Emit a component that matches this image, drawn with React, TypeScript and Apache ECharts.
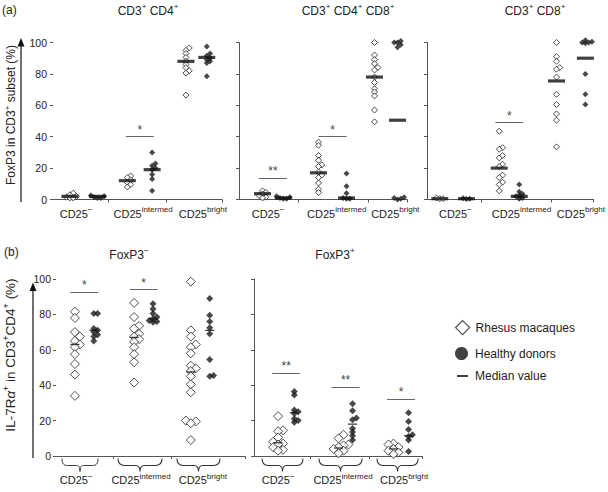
import React, { useEffect, useRef } from "react";
import * as echarts from "echarts";

// ---------- DATA ----------
// (a) FoxP3 in CD3+ subset (%) — groups: CD25−, CD25intermed, CD25bright
const a1Rhesus = [[4, 3, 2, 1.5, 1, 1], [15, 14, 12.5, 11, 9.5, 8], [96.5, 95, 93, 90.5, 88, 86, 84, 82, 80.5, 66.5]];
const a1Healthy = [[2.5, 2, 1.5, 1, 1], [30, 23, 21.5, 20, 19, 16, 13, 5.5], [97.5, 93, 91.5, 90, 89, 88, 87, 78.5]];
const a1RhesusMedian = [2, 12, 88];
const a1HealthyMedian = [2, 19, 90.5];
const a1Signif = [{ group: 1, y: 40, label: "*" }];

const a2Rhesus = [[5.5, 4.5, 3.5, 2.5, 1.5, 1], [36.5, 34.5, 28, 25, 22, 21, 17.5, 15.5, 14, 10.5, 6.5, 4.5], [100, 92, 89, 86.5, 84, 82.5, 78, 74.5, 70.5, 68.5, 66, 57, 49.5]];
const a2Healthy = [[2, 1.5, 1, 0.5, 0.5], [16.5, 8.5, 4, 1, 0.5, 0.5], [101, 100, 100, 98.5, 97, 1.5, 1, 0.5, 0]];
const a2RhesusMedian = [3.7, 17, 78];
const a2HealthyMedian = [1, 1, 50.5];
const a2Signif = [{ group: 0, y: 13.5, label: "**" }, { group: 1, y: 40, label: "*" }];

const a3Rhesus = [[1, 0.5, 0.5], [43.5, 33, 32, 28, 26.5, 22.5, 21, 15.5, 14, 11, 9.5, 5.5], [100, 91, 88, 84, 83, 78, 67, 60.5, 54.5, 50.5, 33.5]];
const a3Healthy = [[0.8, 0.5, 0.3], [9.5, 5, 3.5, 2.5, 2, 1, 0.5], [101.5, 100.5, 100, 100, 99.5, 80, 67, 60.5]];
const a3RhesusMedian = [0.5, 20, 75.5];
const a3HealthyMedian = [0.5, 2, 90];
const a3Signif = [{ group: 1, y: 49, label: "*" }];

// (b) IL-7Rα+ in CD3+CD4+ (%)
const b1Rhesus = [[81.5, 78, 70, 67.5, 65, 63, 61.5, 57.5, 52, 46, 34], [86.5, 78.5, 73.5, 72, 69, 67.5, 66, 64.5, 61.5, 57.5, 53, 41.5], [98.5, 71, 67.5, 63, 61.5, 58, 51, 49.5, 48, 45, 40.5, 36, 20, 19.5, 18.5, 9]];
const b1Healthy = [[80.5, 80.5, 72, 71, 70, 68.5, 67.5, 65], [86, 83, 80.5, 78.5, 77.5, 76.5, 76, 75.5], [89, 79.5, 76, 72.5, 69, 54.5, 45.5, 45]];
const b1RhesusMedian = [63, 67, 47.5];
const b1HealthyMedian = [71, 77.5, 71];
const b1Signif = [{ group: 0, y: 92.5, label: "*" }, { group: 1, y: 94, label: "*" }, { group: 2, y: 105, label: "*" }];

const b2Rhesus = [[22.5, 14.5, 14, 10.5, 8, 7, 6.5, 5, 3.5, 3], [12, 10, 6.5, 6, 5, 4, 3, 1.5], [7, 6.5, 5, 4, 3, 2, 1]];
const b2Healthy = [[36.5, 34.5, 26, 25, 24, 21, 20, 19], [29.5, 25.5, 21.5, 20.5, 15.5, 13.5, 11.5, 9], [24.5, 19.5, 15, 12, 11, 9, 2.5]];
const b2RhesusMedian = [7.5, 4.5, 4];
const b2HealthyMedian = [24.5, 18, 11.5];
const b2Signif = [{ group: 0, y: 47, label: "**" }, { group: 1, y: 39, label: "**" }, { group: 2, y: 32, label: "*" }];

const GROUP_LABELS = ["{n|CD25}{s|−}", "{n|CD25}{s|intermed}", "{n|CD25}{s|bright}"];
const Y_TICKS_MAX = 100;

// ---------- STYLE / LAYOUT ----------
const FONT = "'Liberation Sans', Arial, Helvetica, sans-serif";
const INK = "#222";
const AXIS = "#555";

const BRACE_D = "M0,0 C0,5 2,7 6,7 L16,7 C19,7 20,9 20,13 C20,9 21,7 24,7 L34,7 C38,7 40,5 40,0";
let braceRegistered = false;
function registerBrace() {
  if (braceRegistered) return;
  echarts.graphic.registerShape("brace", echarts.graphic.extendPath(BRACE_D, {}));
  braceRegistered = true;
}

type Panel = {
  title: string; titleX: number; titleY: number;
  grid: { left: number; top: number; width: number; height: number };
  yLabels: boolean; yLine: boolean;
  xPos: number[]; ticks: number[]; labelPos: number[]; labelMargin: number;
  rhesus: number[][]; healthy: number[][]; rMed: number[]; hMed: number[];
  signif: { group: number; y: number; label: string }[];
  kind: "a" | "b";
  braces?: number[][];
};

const PANELS: Panel[] = [
  { title: "{t|CD3}{u|+}{t| CD4}{u|+}", titleX: 148, titleY: 10.5, grid: { left: 53, top: 42.5, width: 169, height: 157 }, yLabels: true, yLine: false,
    xPos: [0.3, 0.79, 1.32, 1.76, 2.36, 2.73], ticks: [0.976, 2.006, 3], labelPos: [0.41, 1.6, 2.66], labelMargin: 6,
    rhesus: a1Rhesus, healthy: a1Healthy, rMed: a1RhesusMedian, hMed: a1HealthyMedian, signif: a1Signif, kind: "a" },
  { title: "{t|CD3}{u|+}{t| CD4}{u|+}{t| CD8}{u|+}", titleX: 348, titleY: 10.5, grid: { left: 239, top: 42.5, width: 168, height: 157 }, yLabels: false, yLine: true,
    xPos: [0.42, 0.79, 1.42, 1.92, 2.42, 2.83], ticks: [1.06, 2.31, 3], labelPos: [0.52, 1.745, 2.79], labelMargin: 6,
    rhesus: a2Rhesus, healthy: a2Healthy, rMed: a2RhesusMedian, hMed: a2HealthyMedian, signif: a2Signif, kind: "a" },
  { title: "{t|CD3}{u|+}{t| CD8}{u|+}", titleX: 535, titleY: 10.5, grid: { left: 427, top: 42.5, width: 168, height: 157 }, yLabels: false, yLine: true,
    xPos: [0.23, 0.71, 1.3, 1.66, 2.33, 2.85], ticks: [0.977, 2.237, 3], labelPos: [0.51, 1.7, 2.77], labelMargin: 6,
    rhesus: a3Rhesus, healthy: a3Healthy, rMed: a3RhesusMedian, hMed: a3HealthyMedian, signif: a3Signif, kind: "a" },
  { title: "{t|FoxP3}{u|−}", titleX: 129, titleY: 255, grid: { left: 56, top: 279, width: 189, height: 177 }, yLabels: true, yLine: false,
    xPos: [0.3, 0.6, 1.24, 1.54, 2.14, 2.44], ticks: [0.905, 1.825, 3], labelPos: [0.32, 1.35, 2.33], labelMargin: 16,
    rhesus: b1Rhesus, healthy: b1Healthy, rMed: b1RhesusMedian, hMed: b1HealthyMedian, signif: b1Signif, kind: "b",
    braces: [[0.095, 0.667], [0.984, 1.683], [1.92, 2.603]] },
  { title: "{t|FoxP3}{u|+}", titleX: 335, titleY: 255, grid: { left: 254, top: 279, width: 168, height: 177 }, yLabels: false, yLine: true,
    xPos: [0.43, 0.72, 1.51, 1.76, 2.49, 2.76], ticks: [1.01, 2.06, 3], labelPos: [0.43, 1.59, 2.68], labelMargin: 16,
    rhesus: b2Rhesus, healthy: b2Healthy, rMed: b2RhesusMedian, hMed: b2HealthyMedian, signif: b2Signif, kind: "b",
    braces: [[0.143, 0.875], [1.16, 1.93], [2.196, 2.93]] },
];

// simple beeswarm: horizontal pixel offsets so overlapping points spread a little
function swarm(vals: number[], pxPerY: number, size: number): number[] {
  const order = vals.map((_, i) => i).sort((a, b) => vals[a] - vals[b]);
  const placed: { x: number; y: number }[] = [];
  const out = new Array(vals.length).fill(0);
  const step = size * 0.55;
  const thr = size * 0.5;
  for (const i of order) {
    const y = vals[i] * pxPerY;
    for (let k = 0; k < 21; k++) {
      const m = k === 0 ? 0 : k % 2 ? (k + 1) / 2 : -k / 2;
      const x = m * step;
      if (placed.every((p) => Math.hypot(p.x - x, p.y - y) >= thr)) {
        placed.push({ x, y });
        out[i] = x;
        break;
      }
    }
  }
  return out;
}

const richAxis = {
  n: { fontSize: 11, lineHeight: 16, color: INK, fontFamily: FONT },
  s: { fontSize: 8, lineHeight: 9, verticalAlign: "top", color: INK, fontFamily: FONT },
};
const richTitle = {
  t: { fontSize: 12, lineHeight: 17, fill: INK, fontFamily: FONT },
  u: { fontSize: 8, lineHeight: 9, verticalAlign: "top", fill: INK, fontFamily: FONT },
};

function buildOption() {
  const grids: any[] = [];
  const xAxes: any[] = [];
  const yAxes: any[] = [];
  const series: any[] = [];
  const graphics: any[] = [];

  PANELS.forEach((P, i) => {
    const g = P.grid;
    grids.push({ left: g.left, top: g.top, width: g.width, height: g.height, containLabel: false });
    const lp = P.labelPos;
    xAxes.push({
      gridIndex: i, type: "value", min: 0, max: 3,
      axisLine: { show: true, onZero: false, lineStyle: { color: AXIS, width: 1 } },
      axisTick: { show: true, customValues: P.ticks, length: 3, lineStyle: { color: AXIS } },
      axisLabel: {
        show: true, customValues: lp, margin: P.labelMargin, rich: richAxis,
        formatter: (v: number) => {
          const k = lp.findIndex((p) => Math.abs(p - v) < 1e-6);
          return k >= 0 ? GROUP_LABELS[k] : "";
        },
      },
      splitLine: { show: false },
    });
    yAxes.push({
      gridIndex: i, type: "value", min: 0, max: Y_TICKS_MAX, interval: 20,
      axisLine: { show: P.yLine, lineStyle: { color: AXIS, width: 1 } },
      axisTick: { show: true, length: 3, lineStyle: { color: AXIS } },
      axisLabel: { show: P.yLabels, fontSize: 10.5, color: INK, margin: P.kind === "a" ? 6 : 5, fontFamily: FONT },
      splitLine: { show: false },
    });

    const isA = P.kind === "a";
    const rSize = isA ? 6 : 9;
    const hSize = isA ? 6 : 7;
    const pxY = g.height / 100;
    const toU = 3 / g.width;
    const rData: number[][] = [];
    const hData: number[][] = [];
    P.rhesus.forEach((vals, gi) => {
      const off = swarm(vals, pxY, rSize);
      vals.forEach((v, k) => rData.push([P.xPos[2 * gi] + off[k] * toU, v]));
    });
    P.healthy.forEach((vals, gi) => {
      const off = swarm(vals, pxY, hSize);
      vals.forEach((v, k) => hData.push([P.xPos[2 * gi + 1] + off[k] * toU, v]));
    });
    const medData: number[][] = [];
    P.rMed.forEach((m, gi) => medData.push([P.xPos[2 * gi], m]));
    P.hMed.forEach((m, gi) => medData.push([P.xPos[2 * gi + 1], m]));

    series.push({
      type: "scatter", name: "Rhesus macaques", xAxisIndex: i, yAxisIndex: i, clip: false,
      symbol: "diamond", symbolSize: rSize, data: rData, silent: true,
      itemStyle: { color: "#fff", borderColor: "#222", borderWidth: 1 },
    });
    series.push({
      type: "scatter", name: "Healthy donors", xAxisIndex: i, yAxisIndex: i, clip: false,
      symbol: "diamond", symbolSize: hSize, data: hData, silent: true,
      itemStyle: { color: "#1a1a1a" },
    });
    series.push({
      type: "scatter", name: "Median value", xAxisIndex: i, yAxisIndex: i, clip: false,
      symbol: "rect", symbolSize: isA ? [17, 3.2] : [9, 1.3], data: medData, silent: true,
      itemStyle: { color: "#111" },
      markLine: {
        silent: true, symbol: ["none", "none"], animation: false,
        lineStyle: { color: "#666", width: 1, type: "solid" },
        label: { show: true, position: "middle", formatter: "{b}", color: "#444", fontSize: 12, distance: 1, fontFamily: FONT },
        data: P.signif.map((s) => {
          const c = (P.xPos[2 * s.group] + P.xPos[2 * s.group + 1]) / 2;
          const hw = 14 * toU;
          return [{ coord: [c - hw, s.y], name: s.label }, { coord: [c + hw, s.y] }];
        }),
      },
    });

    graphics.push({
      type: "text", x: P.titleX, y: P.titleY,
      style: { text: P.title, rich: richTitle, align: "center", verticalAlign: "middle", fill: INK },
    });

    if (P.braces) {
      P.braces.forEach(([u1, u2]) => {
        const x1 = g.left + (u1 / 3) * g.width;
        const x2 = g.left + (u2 / 3) * g.width;
        graphics.push({
          type: "brace", x: x1, y: g.top + g.height + 2.5, scaleX: (x2 - x1) / 40, scaleY: 1,
          style: { fill: "none", stroke: "#333", lineWidth: 1 },
        });
      });
    }
  });

  // panel letters
  graphics.push({ type: "text", x: 2, y: 10, style: { text: "(a)", font: `12px ${FONT}`, fill: INK, verticalAlign: "middle" } });
  graphics.push({ type: "text", x: 4, y: 252, style: { text: "(b)", font: `12px ${FONT}`, fill: INK, verticalAlign: "middle" } });

  // y-axis arrows
  graphics.push({ type: "line", shape: { x1: 21, y1: 45, x2: 21, y2: 202 }, style: { stroke: "#111", lineWidth: 1.2 } });
  graphics.push({ type: "polygon", shape: { points: [[17.5, 46.5], [24.5, 46.5], [21, 38]] }, style: { fill: "#111" } });
  graphics.push({ type: "line", shape: { x1: 33, y1: 290, x2: 33, y2: 458 }, style: { stroke: "#111", lineWidth: 1.2 } });
  graphics.push({ type: "polygon", shape: { points: [[29.5, 291], [36.5, 291], [33, 282.5]] }, style: { fill: "#111" } });

  // y-axis titles
  graphics.push({
    type: "text", x: 11, y: 115, rotation: Math.PI / 2,
    style: {
      text: "{n|FoxP3 in CD3}{s|+}{n| subset (%)}", align: "center", verticalAlign: "middle",
      rich: {
        n: { fontSize: 12, lineHeight: 16, fill: INK, fontFamily: FONT },
        s: { fontSize: 8, lineHeight: 9, verticalAlign: "top", fill: INK, fontFamily: FONT },
      },
    },
  });
  graphics.push({
    type: "text", x: 10, y: 355, rotation: Math.PI / 2,
    style: {
      text: "{n|IL-7R}{i|α}{s|+}{n| in CD3}{s|+}{n|CD4}{s|+}{n| (%)}", align: "center", verticalAlign: "middle",
      rich: {
        n: { fontSize: 13.5, lineHeight: 18, fill: INK, fontFamily: FONT },
        i: { fontSize: 13.5, lineHeight: 18, fill: INK, fontFamily: FONT, fontStyle: "italic" },
        s: { fontSize: 9, lineHeight: 10, verticalAlign: "top", fill: INK, fontFamily: FONT },
      },
    },
  });

  const legendText = { fontSize: 12, color: INK, fontFamily: FONT };
  return {
    animation: false,
    textStyle: { fontFamily: FONT },
    grid: grids,
    xAxis: xAxes,
    yAxis: yAxes,
    series,
    legend: [
      { left: 455, top: 320, orient: "vertical", padding: 0, itemWidth: 14, itemHeight: 14, selectedMode: false,
        textStyle: { ...legendText, padding: [0, 0, 0, 1] },
        data: [{ name: "Rhesus macaques", icon: "diamond", itemStyle: { color: "#fff", borderColor: "#222", borderWidth: 1.2 } }] },
      { left: 455, top: 347, orient: "vertical", padding: 0, itemWidth: 13, itemHeight: 13, selectedMode: false,
        textStyle: { ...legendText, padding: [0, 0, 0, 2] },
        data: [{ name: "Healthy donors", icon: "circle", itemStyle: { color: "#111" } }] },
      { left: 457, top: 370, orient: "vertical", padding: 0, itemWidth: 11, itemHeight: 2, selectedMode: false,
        textStyle: { ...legendText, padding: [0, 0, 0, 2] },
        data: [{ name: "Median value", icon: "rect", itemStyle: { color: "#111" } }] },
    ],
    graphic: { elements: graphics },
  };
}

export default function App() {
  const ref = useRef<HTMLDivElement>(null);
  useEffect(() => {
    if (!ref.current) return;
    registerBrace();
    const chart = echarts.init(ref.current, undefined, { renderer: "svg" });
    chart.setOption(buildOption() as any);
    return () => chart.dispose();
  }, []);
  return (
    <div
      ref={ref}
      style={{ position: "absolute", left: 0, top: 0, width: 608, height: 492, background: "#fff" }}
    />
  );
}
